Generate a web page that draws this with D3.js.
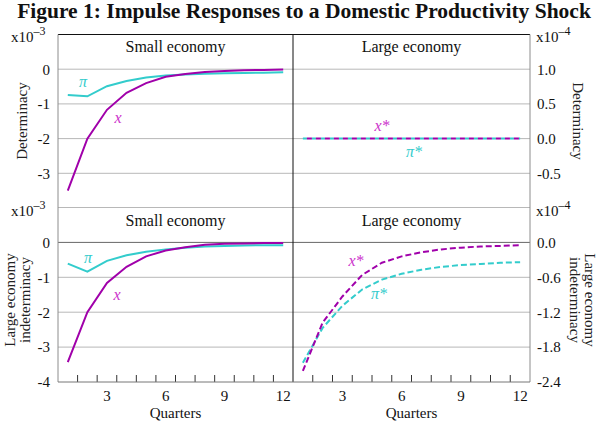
<!DOCTYPE html>
<html>
<head>
<meta charset="utf-8">
<script src="https://cdn.jsdelivr.net/npm/d3@7"></script>
<style>
body{margin:0;background:#fff;}
svg{display:block;font-family:"Liberation Serif","Times New Roman",serif;}
</style>
</head>
<body>
<svg id="chart" width="600" height="421"></svg>
<script>
// ---- data ----
const quarters = [1,2,3,4,5,6,7,8,9,10,11,12];
const xTickLabels = [3,6,9,12];
// Determinacy, small economy (x10^-3)
const detSmallX  = [-3.50,-2.00,-1.17,-0.68,-0.40,-0.22,-0.14,-0.08,-0.05,-0.03,-0.02,-0.01];
const detSmallPi = [-0.74,-0.78,-0.49,-0.34,-0.24,-0.18,-0.15,-0.13,-0.12,-0.11,-0.10,-0.09];
// Determinacy, large economy (x10^-4)
const detLargeX  = [0,0,0,0,0,0,0,0,0,0,0,0];
const detLargePi = [0,0,0,0,0,0,0,0,0,0,0,0];
// Large economy indeterminacy, small economy (x10^-3)
const indSmallX  = [-3.43,-2.00,-1.16,-0.70,-0.40,-0.23,-0.14,-0.07,-0.04,-0.03,-0.02,-0.02];
const indSmallPi = [-0.61,-0.84,-0.53,-0.37,-0.27,-0.20,-0.15,-0.12,-0.10,-0.09,-0.08,-0.08];
// Large economy indeterminacy, large economy (x10^-4)
const indLargeX  = [-2.21,-1.38,-0.93,-0.56,-0.35,-0.24,-0.17,-0.12,-0.09,-0.07,-0.06,-0.05];
const indLargePi = [-2.07,-1.47,-1.09,-0.81,-0.64,-0.54,-0.47,-0.42,-0.39,-0.37,-0.35,-0.34];
// tick values
const leftTopTicks = [0,-1,-2,-3];
const rightTopTicks = [1.0,0.5,0.0,-0.5];
const leftBotTicks = [0,-1,-2,-3,-4];
const rightBotTicks = [0.0,-0.6,-1.2,-1.8,-2.4];

const purple = "#a000aa", cyan = "#33cccc";
const purpleTxt = "#cc33cc", cyanTxt = "#33cccc";
const grid = "#b8b8b8";
const frameGray = "#8c8c8c";

const svg = d3.select("#chart");

// ---- scales ----
const xL = d3.scaleBand().domain(quarters).range([58, 293]);
const xR = d3.scaleBand().domain(quarters).range([293, 530]);
const cx = (s) => (d) => s(d) + s.bandwidth()/2;

const yTopL = d3.scaleLinear().domain([-4, 1]).range([208, 34.5]);
const yTopR = d3.scaleLinear().domain([-1.0, 1.5]).range([208, 34.5]);
const yBotL = d3.scaleLinear().domain([-4, 1]).range([382, 207.5]);
const yBotR = d3.scaleLinear().domain([-2.4, 0.6]).range([382, 207.5]);

const hy = (f) => (d) => f(d).replace("\u2212", "-");

// title
svg.append("text").attr("x", 304).attr("y", 18).attr("text-anchor","middle")
  .attr("font-weight","bold").attr("font-size", 21.5).attr("fill","#111")
  .text("Figure 1: Impulse Responses to a Domestic Productivity Shock");

// gridlines
function gridLines(vals, y, color){
  svg.append("g").selectAll("line").data(vals).join("line")
    .attr("x1", 58).attr("x2", 530)
    .attr("y1", d=>y(d)).attr("y2", d=>y(d))
    .attr("stroke", color).attr("stroke-width", 1);
}
gridLines(leftTopTicks, yTopL, grid);
gridLines([1], yBotL, grid);
gridLines([-1,-2,-3], yBotL, grid);
gridLines([0], yBotL, "#666");
gridLines([1], yTopL, "#111");

// frame
svg.append("line").attr("x1",530).attr("x2",530).attr("y1",34.5).attr("y2",382).attr("stroke",frameGray);
svg.append("line").attr("x1",58).attr("x2",58).attr("y1",34.5).attr("y2",382).attr("stroke",frameGray);
svg.append("line").attr("x1",293).attr("x2",293).attr("y1",34.5).attr("y2",382).attr("stroke","#111");

// y axes
function leftAxis(y, ticks, fmt){
  const g = svg.append("g").attr("transform","translate(58,0)")
    .call(d3.axisLeft(y).tickValues(ticks).tickFormat(hy(fmt)).tickSize(0).tickPadding(8));
  g.select(".domain").remove();
  g.selectAll("text").attr("font-family","Liberation Serif").attr("font-size",15).attr("fill","#111");
}
function rightAxis(y, ticks, fmt){
  const g = svg.append("g").attr("transform","translate(530,0)")
    .call(d3.axisRight(y).tickValues(ticks).tickFormat(hy(fmt)).tickSize(0).tickPadding(7));
  g.select(".domain").remove();
  g.selectAll("text").attr("font-family","Liberation Serif").attr("font-size",15).attr("fill","#111");
}
leftAxis(yTopL, leftTopTicks, d3.format("d"));
rightAxis(yTopR, rightTopTicks, d3.format(".1f"));
leftAxis(yBotL, leftBotTicks, d3.format("d"));
rightAxis(yBotR, rightBotTicks, d3.format(".1f"));

// x axes (bottom)
function bottomAxis(x){
  const g = svg.append("g").attr("transform","translate(0,382)");
  const edges = quarters.slice(1).map(q => x(q));
  g.selectAll("line.tk").data(edges).join("line").attr("class","tk")
    .attr("x1",d=>d).attr("x2",d=>d).attr("y1",-7).attr("y2",0).attr("stroke","#333");
  g.append("line").attr("x1", x.range()[0]).attr("x2", x.range()[1]).attr("y1",0).attr("y2",0).attr("stroke","#777");
  g.selectAll("text").data(xTickLabels).join("text")
    .attr("x", d => cx(x)(d)).attr("y", 19).attr("text-anchor","middle")
    .attr("font-size",15).attr("fill","#111").text(d=>d);
  svg.append("text").attr("x", (x.range()[0]+x.range()[1])/2).attr("y", 418)
    .attr("text-anchor","middle").attr("font-size",15).attr("fill","#111").text("Quarters");
}
bottomAxis(xL);
bottomAxis(xR);

// scale multipliers
function mult(x, y, exp){
  const t = svg.append("text").attr("x", x).attr("y", y).attr("font-size",15).attr("fill","#111");
  t.append("tspan").text("x10");
  t.append("tspan").attr("dy",-7).attr("font-size",12).text("\u2013"+exp);
}
mult(11, 42, 3);
mult(536, 42, 4);
mult(11, 216, 3);
mult(536, 216, 4);

// panel titles
function ptitle(x, y, s){
  svg.append("text").attr("x",x).attr("y",y).attr("text-anchor","middle").attr("font-size",16).attr("fill","#111").text(s);
}
ptitle(175.5, 52, "Small economy");
ptitle(411.5, 52, "Large economy");
ptitle(175.5, 226, "Small economy");
ptitle(411.5, 226, "Large economy");

// y titles
function ytitle(x, y, rot, lines){
  const t = svg.append("text").attr("transform",`translate(${x},${y}) rotate(${rot})`)
    .attr("text-anchor","middle").attr("font-size",15).attr("fill","#222");
  lines.forEach((l,i)=> t.append("tspan").attr("x",0).attr("dy", i===0?0:15).text(l));
}
ytitle(27, 121, -90, ["Determinacy"]);
ytitle(573, 121, 90, ["Determinacy"]);
ytitle(15, 300, -90, ["Large economy","indeterminacy"]);
ytitle(585, 300, 90, ["Large economy","indeterminacy"]);

// lines
function series(x, y, vals, color, dash, offset){
  const line = d3.line().x((d,i)=>cx(x)(quarters[i])).y(d=>y(d));
  svg.append("path").attr("d", line(vals)).attr("fill","none")
    .attr("stroke", color).attr("stroke-width", 2)
    .attr("stroke-dasharray", dash || null)
    .attr("stroke-dashoffset", offset || 0);
}
series(xL, yTopL, detSmallPi, cyan);
series(xL, yTopL, detSmallX, purple);
series(xR, yTopR, detLargePi, cyan, "4,5", 0);
series(xR, yTopR, detLargeX, purple, "5,4", 5);
series(xL, yBotL, indSmallPi, cyan);
series(xL, yBotL, indSmallX, purple);
series(xR, yBotR, indLargePi, cyan, "6,3");
series(xR, yBotR, indLargeX, purple, "6,3");

// series labels
function lbl(x, y, s, color){
  svg.append("text").attr("x",x).attr("y",y).attr("font-style","italic").attr("font-size",16)
    .attr("fill",color).attr("text-anchor","middle").text(s);
}
lbl(83, 87, "\u03c0", cyanTxt);
lbl(118, 123, "x", purpleTxt);
lbl(382, 131, "x*", purpleTxt);
lbl(414, 157, "\u03c0*", cyanTxt);
lbl(88, 263, "\u03c0", cyanTxt);
lbl(117, 300, "x", purpleTxt);
lbl(356, 266, "x*", purpleTxt);
lbl(379, 299, "\u03c0*", cyanTxt);
</script>
</body>
</html>
